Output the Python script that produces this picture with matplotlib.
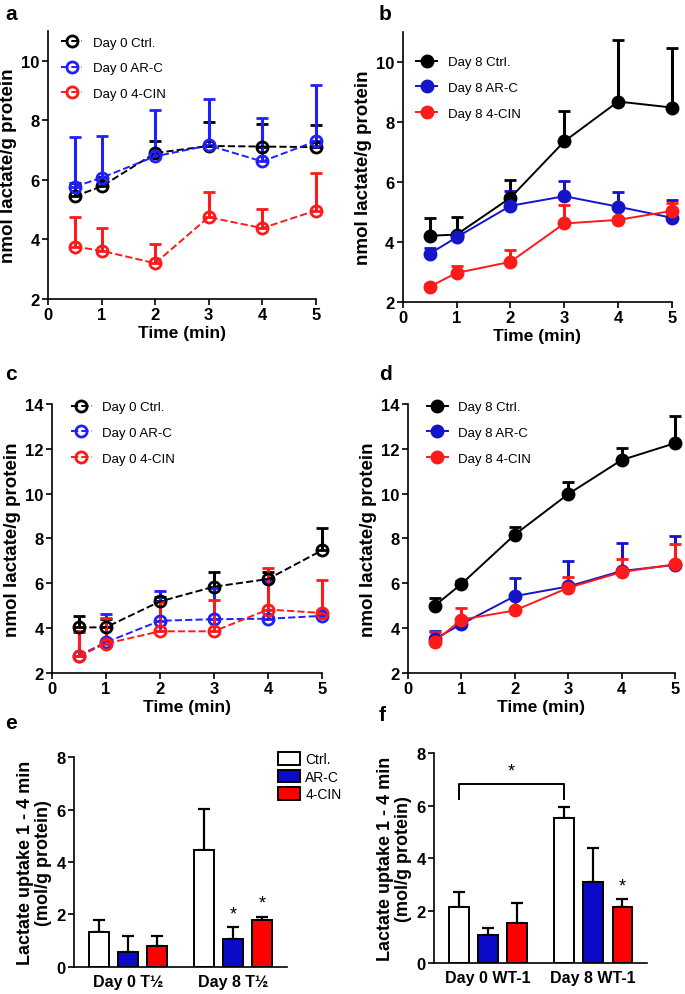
import numpy as np
import matplotlib
matplotlib.use('Agg')
import matplotlib.pyplot as plt
from matplotlib.patches import Patch
from matplotlib.lines import Line2D

plt.rcParams['font.family'] = ['Liberation Sans', 'DejaVu Sans']
plt.rcParams['axes.linewidth'] = 1.2

time = [0.5, 1, 2, 3, 4, 5]

# panel a - day 0 (mean, top of error bar)
ctrl_a = [5.45, 5.78, 6.9, 7.14, 7.12, 7.1]
ctrl_a_top = [5.9, 6.1, 7.3, 7.93, 7.87, 7.85]
arc_a = [5.77, 6.07, 6.79, 7.16, 6.62, 7.3]
arc_a_top = [7.45, 7.47, 8.36, 8.72, 8.08, 9.18]
cin_a = [3.76, 3.62, 3.2, 4.75, 4.38, 4.97]
cin_a_top = [4.77, 4.38, 3.85, 5.6, 5.02, 6.24]

# panel b - day 8
ctrl_b = [4.2, 4.24, 5.47, 7.35, 8.68, 8.48]
ctrl_b_top = [4.8, 4.83, 6.05, 8.36, 10.75, 10.47]
arc_b = [3.6, 4.15, 5.2, 5.52, 5.17, 4.8]
arc_b_top = [3.8, 4.3, 5.69, 6.03, 5.66, 5.38]
cin_b = [2.5, 2.96, 3.33, 4.61, 4.73, 5.03]
cin_b_top = [2.6, 3.2, 3.72, 5.23, 4.8, 5.3]

# panel c - day 0
ctrl_c = [4.03, 4.04, 5.19, 5.85, 6.19, 7.47]
ctrl_c_top = [4.53, 4.4, 5.4, 6.52, 6.5, 8.47]
arc_c = [2.78, 3.37, 4.33, 4.4, 4.42, 4.55]
arc_c_top = [3.85, 4.64, 5.67, 5.8, 6.1, 4.7]
cin_c = [2.76, 3.31, 3.86, 3.86, 4.83, 4.68]
cin_c_top = [3.86, 4.44, 5.16, 5.27, 6.7, 6.14]

# panel d - day 8
ctrl_d = [5.0, 5.97, 8.17, 9.98, 11.5, 12.25]
ctrl_d_top = [5.33, 6.1, 8.5, 10.52, 12.05, 13.47]
arc_d = [3.52, 4.18, 5.43, 5.86, 6.55, 6.82]
arc_d_top = [3.88, 4.3, 6.25, 6.99, 7.82, 8.09]
cin_d = [3.4, 4.38, 4.79, 5.8, 6.5, 6.85]
cin_d_top = [3.83, 4.92, 5.35, 6.3, 7.1, 7.74]

# bar panels
groups_e = ['Day 0 T½', 'Day 8 T½']
e_ctrl = [1.34, 4.46]
e_ctrl_top = [1.8, 6.03]
e_arc = [0.57, 1.06]
e_arc_top = [1.16, 1.5]
e_cin = [0.78, 1.8]
e_cin_top = [1.16, 1.91]

groups_f = ['Day 0 WT-1', 'Day 8 WT-1']
f_ctrl = [2.15, 5.52]
f_ctrl_top = [2.7, 5.94]
f_arc = [1.08, 3.08]
f_arc_top = [1.35, 4.39]
f_cin = [1.51, 2.12]
f_cin_top = [2.28, 2.43]

BLACK = '#000000'
BLUE_A = '#1f1fff'
BLUE_B = '#1414c8'
RED = '#ff1a1a'
BAR_BLUE = '#0a0ac8'
BAR_RED = '#ff0000'

fig = plt.figure(figsize=(6.85, 9.95), dpi=100)


def style_axis(ax):
    for s in ['top', 'right']:
        ax.spines[s].set_visible(False)
    ax.tick_params(width=1.2, length=4, labelsize=12, pad=2)
    for lab in ax.get_xticklabels() + ax.get_yticklabels():
        lab.set_fontweight('bold')


def line_panel(rect, series, ylim, yticks, open_marker, legend_anchor):
    ax = fig.add_axes(rect)
    handles = []
    labels = []
    for y, top, col, lab in series:
        y = np.array(y)
        top = np.array(top)
        err = [np.zeros_like(y), top - y]
        ls = '--' if open_marker else '-'
        mfc = 'none' if open_marker else col
        cont = ax.errorbar(time, y, yerr=err, color=col, ecolor=col, elinewidth=2.2,
                           capsize=4, capthick=2.2, linestyle=ls, linewidth=1.4,
                           marker='o', markersize=8, markerfacecolor=mfc,
                           markeredgewidth=2)
        for art in cont.get_children():
            art.set_clip_on(False)
        handles.append(Line2D([], [], color=col, linestyle=ls, linewidth=1.4,
                              marker='o', markersize=8, markerfacecolor=mfc,
                              markeredgewidth=2))
        labels.append(lab)
    ax.set_xlim(0, 5)
    ax.set_ylim(*ylim)
    ax.set_xticks([0, 1, 2, 3, 4, 5])
    ax.set_yticks(yticks)
    ax.set_xlabel('Time (min)', fontsize=12.5, fontweight='bold', labelpad=2)
    ax.set_ylabel('nmol lactate/g protein', fontsize=13.5, fontweight='bold', labelpad=3)
    ax.legend(handles, labels, loc='upper left', bbox_to_anchor=legend_anchor,
              frameon=False, fontsize=9.5, handlelength=1.6, labelspacing=1.02,
              borderaxespad=0, handletextpad=0.8)
    style_axis(ax)
    return ax


ax_a = line_panel([0.070, 0.6985, 0.391, 0.2693],
                  [(ctrl_a, ctrl_a_top, BLACK, 'Day 0 Ctrl.'),
                   (arc_a, arc_a_top, BLUE_A, 'Day 0 AR-C'),
                   (cin_a, cin_a_top, RED, 'Day 0 4-CIN')],
                  (2, 11), [2, 4, 6, 8, 10], True, (0.03, 1.0))
ax_b = line_panel([0.588, 0.6958, 0.393, 0.271],
                  [(ctrl_b, ctrl_b_top, BLACK, 'Day 8 Ctrl.'),
                   (arc_b, arc_b_top, BLUE_B, 'Day 8 AR-C'),
                   (cin_b, cin_b_top, RED, 'Day 8 4-CIN')],
                  (2, 11), [2, 4, 6, 8, 10], False, (0.03, 0.93))
ax_c = line_panel([0.0759, 0.3226, 0.394, 0.2704],
                  [(ctrl_c, ctrl_c_top, BLACK, 'Day 0 Ctrl.'),
                   (arc_c, arc_c_top, BLUE_A, 'Day 0 AR-C'),
                   (cin_c, cin_c_top, RED, 'Day 0 4-CIN')],
                  (2, 14), [2, 4, 6, 8, 10, 12, 14], True, (0.05, 1.03))
ax_d = line_panel([0.5956, 0.3226, 0.3898, 0.2704],
                  [(ctrl_d, ctrl_d_top, BLACK, 'Day 8 Ctrl.'),
                   (arc_d, arc_d_top, BLUE_B, 'Day 8 AR-C'),
                   (cin_d, cin_d_top, RED, 'Day 8 4-CIN')],
                  (2, 14), [2, 4, 6, 8, 10, 12, 14], False, (0.05, 1.03))


def bar_panel(rect, groups, vals, tops, cols, labels):
    ax = fig.add_axes(rect)
    centers = np.array([0, 3.62])
    for k, (v, t, c) in enumerate(zip(vals, tops, cols)):
        x = centers + (k - 1)
        v = np.array(v)
        t = np.array(t)
        ax.bar(x, v, width=0.66, color=c, edgecolor='black', linewidth=1.4,
               label=labels[k], zorder=2)
        ax.errorbar(x, v, yerr=[np.zeros_like(v), t - v], fmt='none',
                    ecolor='black', elinewidth=1.6, capsize=4, capthick=1.6, zorder=1)
    ax.set_xlim(-1.86, 5.48)
    ax.set_ylim(0, 8)
    ax.set_yticks([0, 2, 4, 6, 8])
    ax.set_xticks(centers)
    ax.set_xticklabels(groups)
    ax.set_ylabel('Lactate uptake 1 - 4 min\n(mol/g protein)', fontsize=13,
                  fontweight='bold', labelpad=3, linespacing=1.1)
    style_axis(ax)
    ax.tick_params(axis='x', length=0, labelsize=11.5, pad=5)
    return ax, centers


ax_e, cen_e = bar_panel([0.108, 0.0274, 0.311, 0.2105], groups_e,
                        [e_ctrl, e_arc, e_cin], [e_ctrl_top, e_arc_top, e_cin_top],
                        ['white', BAR_BLUE, BAR_RED], ['Ctrl.', 'AR-C', '4-CIN'])
ax_e.text(cen_e[1], e_arc_top[1] + 0.2, '*', ha='center', va='bottom', fontsize=13)
ax_e.text(cen_e[1] + 1, e_cin_top[1] + 0.2, '*', ha='center', va='bottom', fontsize=13)
leg_handles = [Patch(facecolor='white', edgecolor='black', linewidth=1.4),
               Patch(facecolor=BAR_BLUE, edgecolor='black', linewidth=1.4),
               Patch(facecolor=BAR_RED, edgecolor='black', linewidth=1.4)]
ax_e.legend(leg_handles, ['Ctrl.', 'AR-C', '4-CIN'], loc='upper left',
            bbox_to_anchor=(0.93, 1.05), frameon=False, fontsize=10,
            handlelength=1.6, handleheight=1.0, labelspacing=0.25,
            borderaxespad=0, handletextpad=0.4)

ax_f, cen_f = bar_panel([0.6336, 0.0312, 0.311, 0.2108], groups_f,
                        [f_ctrl, f_arc, f_cin], [f_ctrl_top, f_arc_top, f_cin_top],
                        ['white', BAR_BLUE, BAR_RED], ['Ctrl.', 'AR-C', '4-CIN'])
ax_f.text(cen_f[1] + 1, f_cin_top[1] + 0.2, '*', ha='center', va='bottom', fontsize=13)
bx0, bx1 = cen_f[0] - 1, cen_f[1] - 1
ax_f.plot([bx0, bx0, bx1, bx1], [6.25, 6.83, 6.83, 6.25], color='black', linewidth=1.4)
ax_f.text((bx0 + bx1) / 2, 7.0, '*', ha='center', va='bottom', fontsize=13)

for lab, x, y in [('a', 0.008, 0.985), ('b', 0.553, 0.985), ('c', 0.008, 0.624),
                  ('d', 0.553, 0.624), ('e', 0.008, 0.273), ('f', 0.553, 0.281)]:
    fig.text(x, y, lab, fontsize=15, fontweight='bold', va='center', ha='left')

fig.savefig('out.png', dpi=100)
